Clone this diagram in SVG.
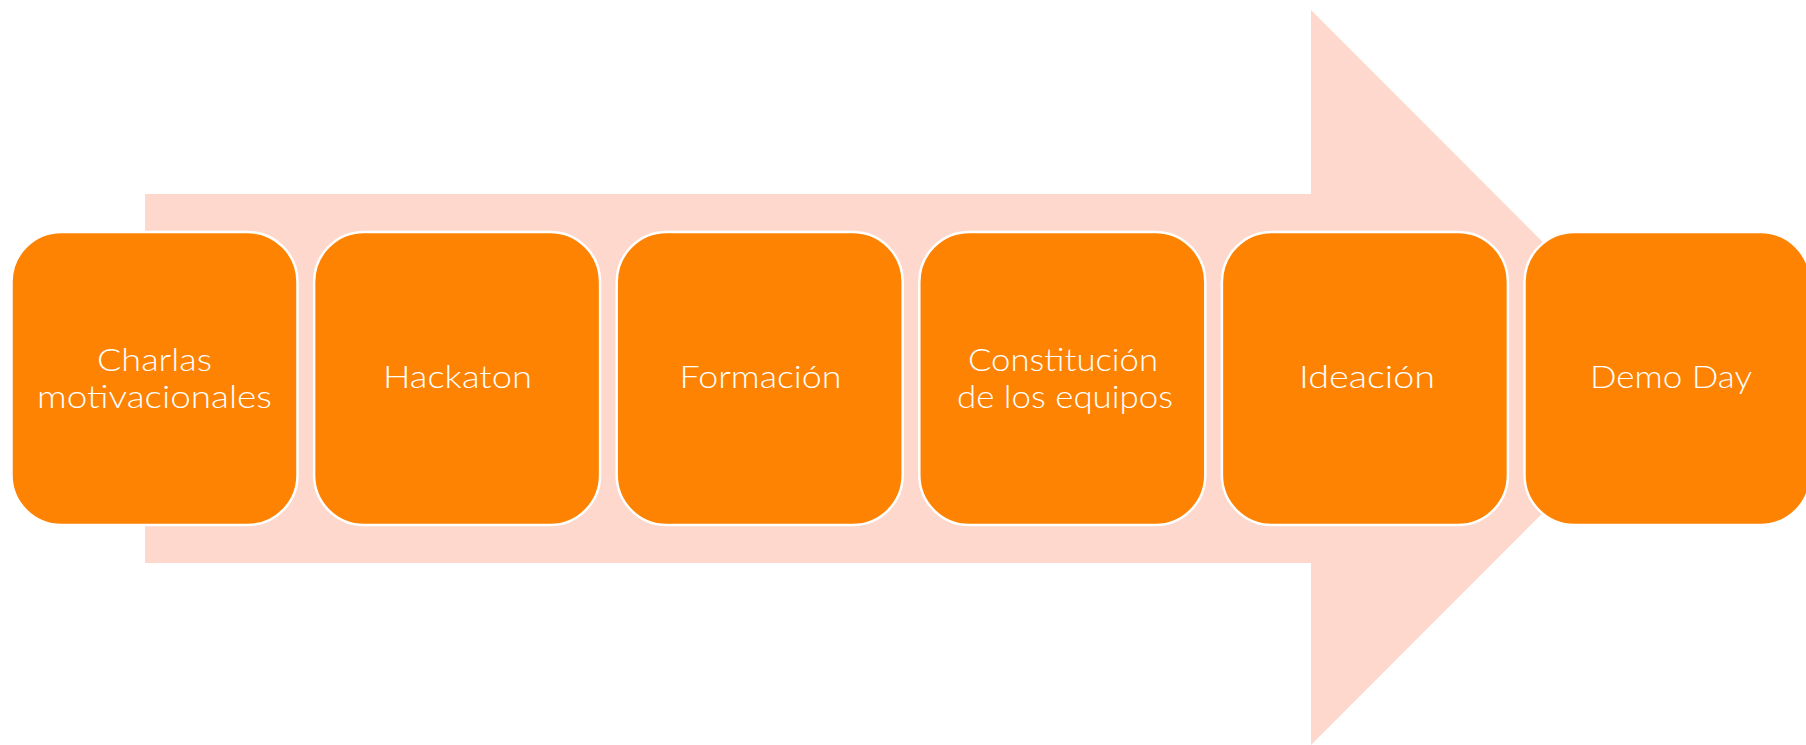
<svg xmlns="http://www.w3.org/2000/svg" width="1806" height="745" viewBox="0 0 1806 745">
<style>
.box{fill:#FF8303;stroke:#FFFFFF;stroke-width:2.5}
.lbl{fill:#FFFFFF;font-family:Lato,"Open Sans",sans-serif;font-weight:300;font-size:31px;text-anchor:middle}
</style>
<rect width="1806" height="745" fill="#FFFFFF"/>
<g id="connectors">
<path d="M145,194 H1311 V10 L1678,377.5 L1311,745 V563 H145 Z" fill="#FED8CC"/>
</g>
<g id="n1"><rect class="box" x="11.5" y="232" width="286" height="293" rx="50"/><text class="lbl" x="154.5" y="371" textLength="115" lengthAdjust="spacingAndGlyphs">Charlas</text><text class="lbl" x="154.5" y="408" textLength="235" lengthAdjust="spacingAndGlyphs">motivacionales</text></g>
<g id="n2"><rect class="box" x="314.1" y="232" width="286" height="293" rx="50"/><text class="lbl" x="457.5" y="388" textLength="149" lengthAdjust="spacingAndGlyphs">Hackaton</text></g>
<g id="n3"><rect class="box" x="616.7" y="232" width="286" height="293" rx="50"/><text class="lbl" x="760.5" y="388" textLength="162" lengthAdjust="spacingAndGlyphs">Formación</text></g>
<g id="n4"><rect class="box" x="919.3" y="232" width="286" height="293" rx="50"/><text class="lbl" x="1063" y="371" textLength="190" lengthAdjust="spacingAndGlyphs">Constitución</text><text class="lbl" x="1065" y="408" textLength="216" lengthAdjust="spacingAndGlyphs">de los equipos</text></g>
<g id="n5"><rect class="box" x="1221.9" y="232" width="286" height="293" rx="50"/><text class="lbl" x="1367" y="388" textLength="136" lengthAdjust="spacingAndGlyphs">Ideación</text></g>
<g id="n6"><rect class="box" x="1524.5" y="232" width="286" height="293" rx="50"/><text class="lbl" x="1671" y="388" textLength="162" lengthAdjust="spacingAndGlyphs">Demo Day</text></g>
</svg>
